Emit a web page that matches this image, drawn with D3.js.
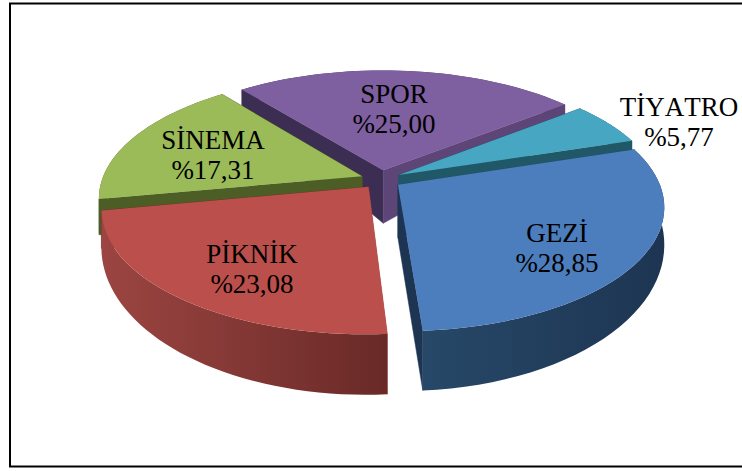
<!DOCTYPE html>
<html><head><meta charset="utf-8">
<script src="https://cdn.jsdelivr.net/npm/d3@7/dist/d3.min.js"></script>
<style>html,body{margin:0;padding:0;background:#fff}svg{display:block}</style>
</head><body><svg id="c" width="742" height="471"></svg>
<script>
// ---- data ----
const categories = ["TİYATRO","GEZİ","PİKNİK","SİNEMA","SPOR"];
const values = [5.77,28.85,23.08,17.31,25.00];
// ---- style ----
const topColors  = ["#47a6c1","#4c7dbc","#bb4f4c","#9bbb59","#7e5fa0"];
const wallColors = [["#205867","#205867"],["#274868","#1d3552"],["#9c4542","#692a27"],["#4c5e26","#4c5e26"],["#3c2d52","#5d4578"]];
const labelAnchors = [[679,116],[557,242],[252,263],[213,149],[394,103]];
const drawOrder = [4,3,0,2,1];
// ---- geometry ----
const W=742,H=471,cx=381,cy=179.4,A=260,B=119.6,P=0.17,EX=0.078,START=51.5;
const toRad=Math.PI/180;
const svg=d3.select("#c");
const defs=svg.append("defs");
svg.append("rect").attr("x",10).attr("y",3.5).attr("width",740).attr("height",463).attr("fill","#fff").attr("stroke","#000").attr("stroke-width",2);

const pie=d3.pie().sort(null).value(d=>d).startAngle(START*toRad).endAngle((START+360)*toRad);
const arcs=pie(values);
const project=(X,Y)=>{const w=1-P*Y;return [cx+A*X/w,cy+B*Y/w];};
const depth=Y=>32+22.5*Y+4*Y*Y;
const APEX_DEPTH=53;
const line=d3.line();

arcs.forEach((a,i)=>{a.mid=(a.startAngle+a.endAngle)/2;a.ox=EX*Math.sin(a.mid);a.oy=-EX*Math.cos(a.mid);});
const world=(a,t)=>[a.ox+Math.sin(t),a.oy-Math.cos(t)];
const rimAngles=a=>d3.range(0,41).map(k=>a.startAngle+(a.endAngle-a.startAngle)*k/40);

drawOrder.forEach(i=>{
  const a=arcs[i];
  const grp=svg.append("g");
  const gid="w"+i;
  const rim=rimAngles(a).map(t=>world(a,t));
  const top=rim.map(p=>project(p[0],p[1]));
  const bottom=rim.map((p,k)=>[top[k][0],top[k][1]+depth(p[1])]);
  const apex=project(a.ox,a.oy);
  const apexB=[apex[0],apex[1]+APEX_DEPTH];
  const xs=top.map(p=>p[0]);
  const g=defs.append("linearGradient").attr("id",gid).attr("gradientUnits","userSpaceOnUse")
    .attr("x1",d3.min(xs)).attr("x2",d3.max(xs)).attr("y1",0).attr("y2",0);
  g.append("stop").attr("offset",0).attr("stop-color",wallColors[i][0]);
  g.append("stop").attr("offset",1).attr("stop-color",wallColors[i][1]);
  // radial walls: start face, end face
  [[0,0],[top.length-1,1]].forEach(([k,c])=>{
    const col=wallColors[i][c];
    grp.append("path").attr("d",line([apex,top[k],bottom[k],apexB])+"Z").attr("fill",col).attr("stroke",col).attr("stroke-width",.5);
  });
  // rim wall
  grp.append("path").attr("d",line(top.concat(bottom.slice().reverse()))+"Z").attr("fill",`url(#${gid})`);
  // top
  grp.append("path").attr("d",line([apex].concat(top))+"Z").attr("fill",topColors[i]);
});

const fmt=v=>"%"+d3.format(".2f")(v).replace(".",",");
categories.forEach((c,i)=>{
  const t=svg.append("text").attr("text-anchor","middle").attr("font-family","'Liberation Serif',serif").attr("font-size",27).attr("fill","#000").style("font-kerning","none");
  t.append("tspan").attr("x",labelAnchors[i][0]).attr("y",labelAnchors[i][1]).text(c);
  t.append("tspan").attr("x",labelAnchors[i][0]).attr("y",labelAnchors[i][1]+30).text(fmt(values[i]));
});
</script></body></html>
